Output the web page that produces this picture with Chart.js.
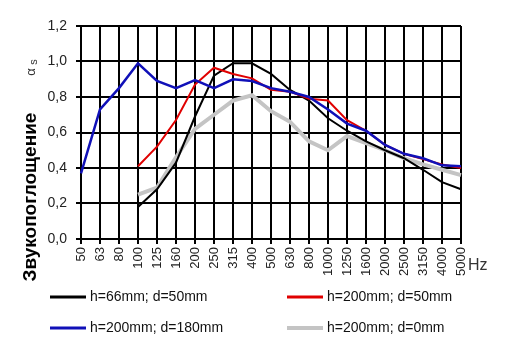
<!DOCTYPE html>
<html>
<head>
<meta charset="utf-8">
<script src="https://cdn.jsdelivr.net/npm/chart.js@4.4.1/dist/chart.umd.min.js"></script>
<style>
  html, body { margin: 0; padding: 0; background: #fff; }
  #wrap { width: 509px; height: 363px; }
</style>
</head>
<body>
<div id="wrap"><canvas id="c" width="509" height="363"></canvas></div>
<script>
// frequencies, Hz
const freqs = ['50','63','80','100','125','160','200','250','315','400','500','630','800','1000','1250','1600','2000','2500','3150','4000','5000'];

// absorption per curve (null = not measured)
const h66_d50 = [null,null,null,0.18,0.28,0.43,0.69,0.92,0.99,0.99,0.93,0.84,0.78,0.68,0.61,0.55,0.50,0.455,0.39,0.32,0.28];
const h200_d50 = [null,null,null,0.41,0.52,0.67,0.87,0.965,0.93,0.905,0.84,0.83,0.79,0.78,0.67,0.61,0.53,0.48,0.45,0.42,0.40];
const h200_d180 = [0.37,0.73,0.85,0.99,0.89,0.85,0.895,0.85,0.90,0.89,0.85,0.83,0.80,0.73,0.65,0.61,0.53,0.48,0.455,0.415,0.41];
const h200_d0 = [null,null,null,0.25,0.29,0.46,0.62,0.70,0.78,0.81,0.72,0.66,0.55,0.50,0.58,0.54,0.50,0.455,0.42,0.39,0.36];

const seriesNames = ['h=66mm; d=50mm','h=200mm; d=50mm','h=200mm; d=180mm','h=200mm; d=0mm'];
const seriesColors = ['#000000','#e00000','#1010b8','#c4c4c4'];
const seriesWidths = [2, 2, 2.5, 4];
const yTicks = [0, 0.2, 0.4, 0.6, 0.8, 1.0, 1.2];

const FONT = 'Liberation Sans, Arial, sans-serif';

const extras = {
  id: 'extras',
  afterDraw(chart) {
    const ctx = chart.ctx;
    ctx.save();
    // y title
    ctx.fillStyle = '#000';
    ctx.font = 'bold 19px ' + FONT;
    ctx.textAlign = 'center';
    ctx.textBaseline = 'middle';
    ctx.translate(31, 197);
    ctx.rotate(-Math.PI / 2);
    ctx.fillText('Звукопоглощение', 0, 0);
    ctx.restore();

    // alpha s
    ctx.save();
    ctx.fillStyle = '#333';
    ctx.translate(31, 68);
    ctx.rotate(-Math.PI / 2);
    ctx.textBaseline = 'middle';
    ctx.textAlign = 'center';
    ctx.font = '13px ' + FONT;
    ctx.fillText('α', -4, 0);
    ctx.font = '11px ' + FONT;
    ctx.fillText('s', 6, 3);
    ctx.restore();

    // Hz
    ctx.save();
    ctx.fillStyle = '#333';
    ctx.font = '16px ' + FONT;
    ctx.textBaseline = 'middle';
    ctx.fillText('Hz', 468, 266);
    ctx.restore();

    // legend, 2x2
    const pos = [[50, 297], [287, 297], [50, 328], [287, 328]];
    ctx.save();
    ctx.font = '14px ' + FONT;
    ctx.textBaseline = 'middle';
    chart.data.datasets.forEach((ds, i) => {
      const [x, y] = pos[i];
      ctx.strokeStyle = ds.borderColor;
      ctx.lineWidth = i === 3 ? 4 : 3;
      ctx.beginPath();
      ctx.moveTo(x, y);
      ctx.lineTo(x + 36, y);
      ctx.stroke();
      ctx.fillStyle = '#111';
      ctx.fillText(ds.label, x + 40, y);
    });
    ctx.restore();
  }
};

new Chart(document.getElementById('c'), {
  type: 'line',
  data: {
    labels: freqs,
    datasets: [h66_d50, h200_d50, h200_d180, h200_d0].map((d, i) => ({
      label: seriesNames[i],
      data: d,
      borderColor: seriesColors[i],
      backgroundColor: seriesColors[i],
      borderWidth: seriesWidths[i],
      pointRadius: 0,
      tension: 0,
      spanGaps: false,
      order: [2, 1, 0, 3][i]
    }))
  },
  options: {
    responsive: false,
    animation: false,
    devicePixelRatio: 1,
    layout: { padding: { left: 0, top: 26, right: 48, bottom: 0 } },
    plugins: { legend: { display: false }, tooltip: { enabled: false } },
    scales: {
      x: {
        type: 'category',
        offset: false,
        grid: { color: '#000', lineWidth: 2, tickLength: 5, offset: false },
        border: { color: '#000', width: 2 },
        ticks: {
          autoSkip: false, minRotation: 90, maxRotation: 90, padding: 3,
          color: '#222', font: { family: FONT, size: 13 }
        },
        afterFit(s) { s.height = 124; }
      },
      y: {
        min: 0, max: 1.2,
        afterBuildTicks(s) { s.ticks = yTicks.map(v => ({ value: v })); },
        grid: { color: '#000', lineWidth: 2, tickLength: 5 },
        border: { color: '#000', width: 2 },
        ticks: {
          padding: 9, color: '#222', font: { family: FONT, size: 14 },
          callback: v => v.toFixed(1).replace('.', ',')
        },
        afterFit(s) { s.width = 81; }
      }
    }
  },
  plugins: [extras]
});
</script>
</body>
</html>
